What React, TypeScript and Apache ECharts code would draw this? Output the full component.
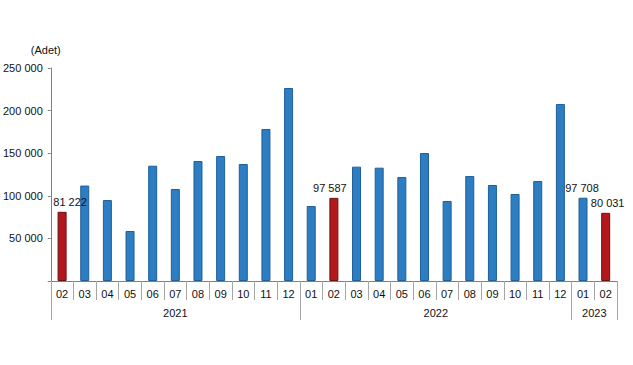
import React, { useEffect, useRef } from "react";
import * as echarts from "echarts";

const months = ["02","03","04","05","06","07","08","09","10","11","12","01","02","03","04","05","06","07","08","09","10","11","12","01","02"];
const values = [81222,112000,95000,58700,135300,108000,140800,146700,137300,178400,226500,88000,97587,134200,133000,122000,150200,93900,123200,112700,102100,117400,207700,97708,80031];
const highlighted = [0, 12, 24];
const labelled = [0, 12, 23, 24];
const labelOffsets = [[8, 0], [-4, 0], [-1, 0], [2, 0]];
const years = ["2021", "2022", "2023"];
const yearStarts = [0, 11, 23, 25];
const yTicks = [0, 50000, 100000, 150000, 200000, 250000];

const fmt = (v: number) => String(Math.round(v)).replace(/\B(?=(\d{3})+(?!\d))/g, " ");

export default function App() {
  const ref = useRef<HTMLDivElement>(null);
  useEffect(() => {
    if (!ref.current) return;
    const chart = echarts.init(ref.current, null, { renderer: "svg" });
    const font = "'Liberation Sans', Arial, sans-serif";
    const yearCenters = years.map((_, i) => (yearStarts[i] + yearStarts[i + 1]) / 2);
    const data = values.map((v, i) => {
      const red = highlighted.includes(i);
      const li = labelled.indexOf(i);
      return {
        value: v,
        itemStyle: red
          ? { color: "#B3191C", borderColor: "#6a1012", borderWidth: 1 }
          : { color: "#2D7DC3", borderColor: "#1f5f98", borderWidth: 1 },
        label: li >= 0
          ? { show: true, position: "top", distance: 4, offset: labelOffsets[li], formatter: () => fmt(v), color: "#111", fontSize: 11, fontFamily: font }
          : { show: false },
      };
    });
    chart.setOption({
      animation: false,
      backgroundColor: "#fff",
      grid: { left: 48, right: 16, top: 68, bottom: 84, containLabel: false },
      xAxis: [
        {
          type: "category",
          data: months,
          position: "bottom",
          axisLine: { show: true, lineStyle: { color: "#7f7f7f", width: 1 } },
          axisTick: { show: true, length: 19, interval: 0, lineStyle: { color: "#a6a6a6" } },
          axisLabel: { interval: 0, margin: 7, color: "#111", fontSize: 11, fontFamily: font },
        },
        {
          type: "value",
          min: 0,
          max: 25,
          position: "bottom",
          axisLine: { show: false },
          splitLine: { show: false },
          axisTick: { show: true, length: 39, customValues: yearStarts, lineStyle: { color: "#a6a6a6" } },
          axisLabel: {
            show: true,
            customValues: yearCenters,
            margin: 26,
            color: "#111",
            fontSize: 11,
            fontFamily: font,
            formatter: (v: number) => {
              const i = yearCenters.findIndex((c) => Math.abs(c - v) < 1e-6);
              return i >= 0 ? years[i] : "";
            },
          },
        },
      ],
      yAxis: {
        type: "value",
        min: yTicks[0],
        max: yTicks[yTicks.length - 1],
        interval: yTicks[1] - yTicks[0],
        name: "(Adet)",
        nameLocation: "end",
        nameGap: 13,
        nameTextStyle: { color: "#111", fontSize: 11, fontFamily: font, align: "center", padding: [0, 10, 0, 0] },
        axisLine: { show: true, lineStyle: { color: "#7f7f7f", width: 1 } },
        axisTick: { show: true, length: 3, lineStyle: { color: "#7f7f7f" } },
        splitLine: { show: false },
        axisLabel: {
          margin: 8,
          color: "#111",
          fontSize: 11,
          fontFamily: font,
          formatter: (v: number) => (v === 0 ? "" : fmt(v)),
        },
      },
      series: [
        {
          type: "bar",
          xAxisIndex: 0,
          barWidth: 9,
          data,
        },
      ],
    });
    return () => chart.dispose();
  }, []);
  return <div ref={ref} style={{ position: "fixed", left: 0, top: 0, width: 633, height: 365 }} />;
}
